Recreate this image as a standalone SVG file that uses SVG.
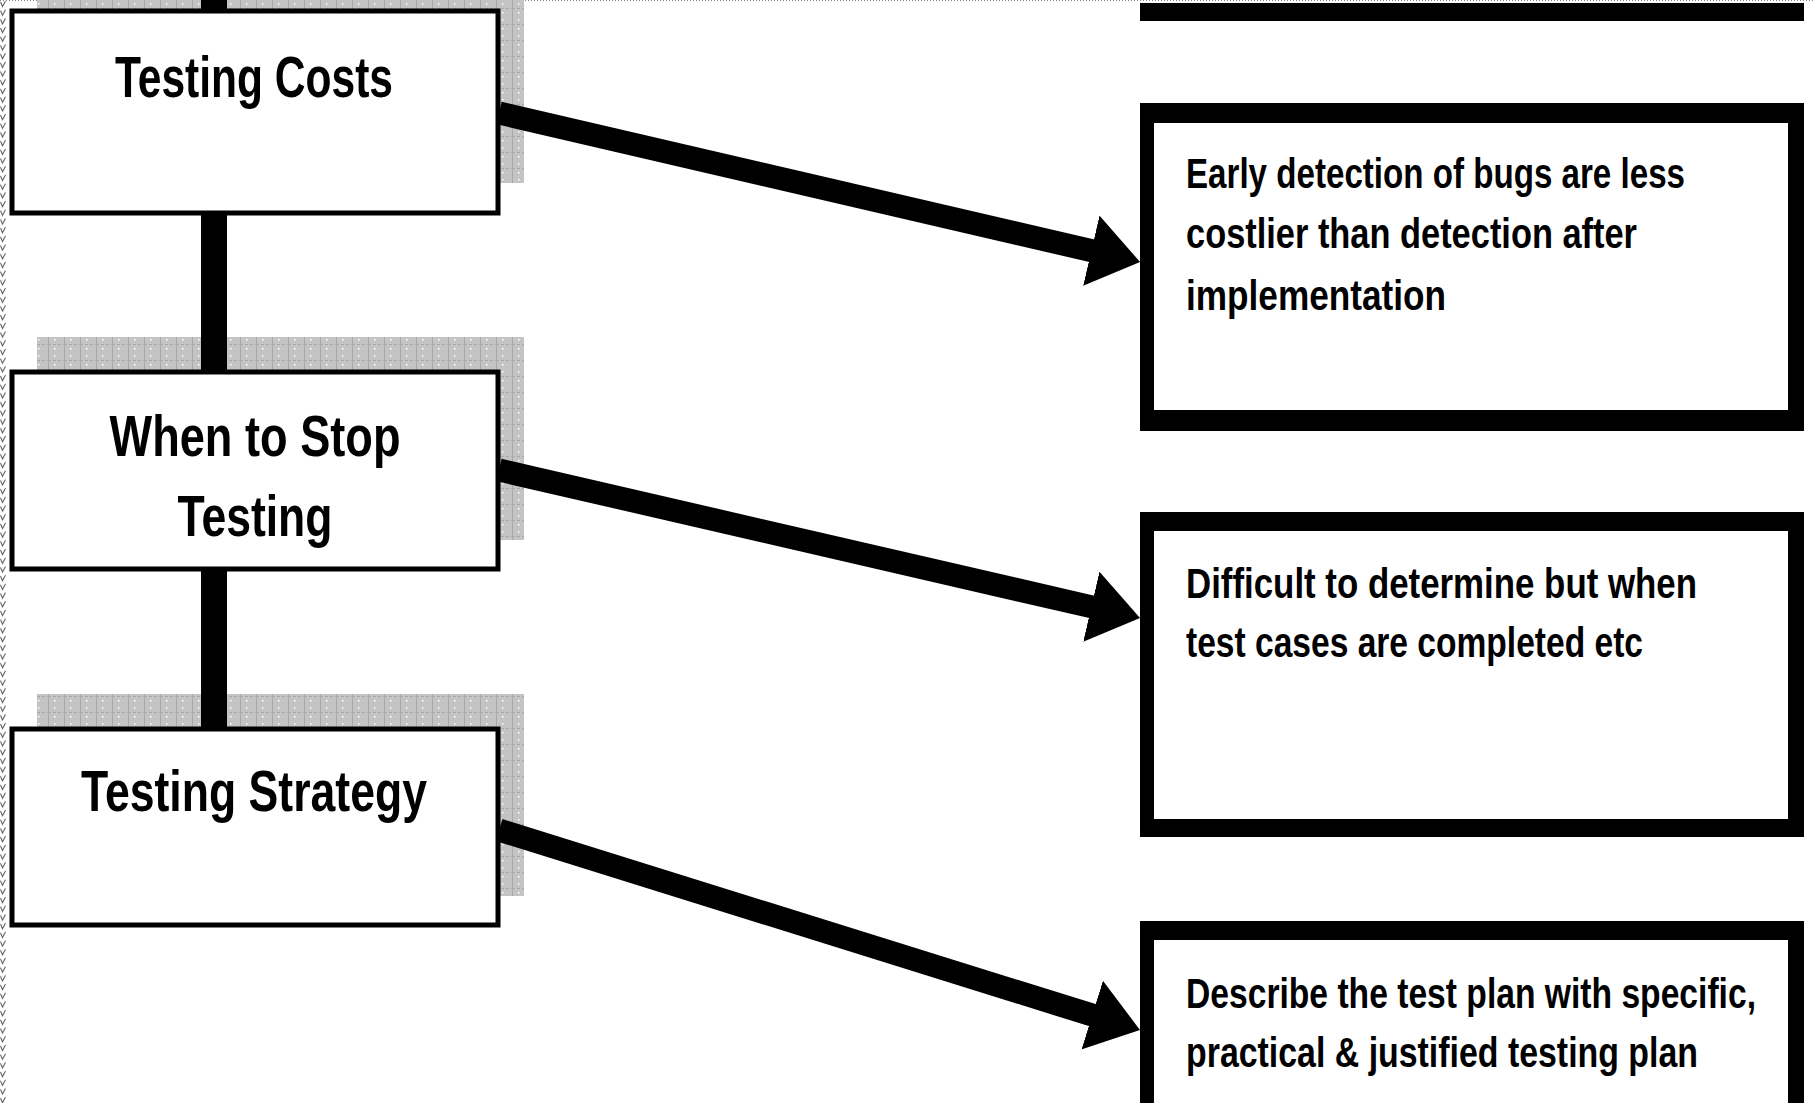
<svg xmlns="http://www.w3.org/2000/svg" width="1814" height="1103" viewBox="0 0 1814 1103">
  <style>
    .shadow { fill: url(#grid); }
    .lbox { fill: #ffffff; stroke: #000000; stroke-width: 5; }
    .title { font-family: "Liberation Sans", Arial, sans-serif; font-weight: bold; font-size: 58px; fill: #000; text-anchor: middle; }
    .outer { fill: #000000; }
    .inner { fill: #ffffff; }
    .body { font-family: "Liberation Sans", Arial, sans-serif; font-weight: bold; font-size: 31px; fill: #000; }
    .trunk { fill: #000000; }
    .arrow { fill: none; stroke: #000000; stroke-width: 23; stroke-linecap: butt; marker-end: url(#head); }
  </style>
  <defs>
    <pattern id="grid" x="0" y="0" width="16" height="16" patternUnits="userSpaceOnUse">
      <rect width="16" height="16" fill="#c4c4c4"/>
      <line x1="0.5" y1="0" x2="0.5" y2="16" stroke="#a9a9a9" stroke-width="1"/>
      <line x1="0" y1="8.5" x2="16" y2="8.5" stroke="#a9a9a9" stroke-width="1" stroke-dasharray="3,2"/>
      <rect x="6" y="3" width="1.5" height="1.5" fill="#ffffff"/>
      <rect x="6" y="12" width="1.5" height="1.5" fill="#ffffff"/>
    </pattern>
    <pattern id="zig" x="0" y="0" width="6" height="8.7" patternUnits="userSpaceOnUse">
      <path d="M0.5,2 L2.5,6.5 L5.5,1" fill="none" stroke="#555555" stroke-width="1"/>
    </pattern>
    <pattern id="dots" x="0" y="0" width="3" height="3" patternUnits="userSpaceOnUse">
      <rect width="1" height="1" fill="#888888"/>
    </pattern>
    <marker id="head" viewBox="0 0 50 72" markerUnits="userSpaceOnUse" markerWidth="50" markerHeight="72" refX="5" refY="36" orient="auto">
      <path d="M0,0 L50,36 L0,72 Z" fill="#000000"/>
    </marker>
  </defs>

  <rect width="1814" height="1103" fill="#ffffff"/>

  <!-- page edges -->
  <rect x="0" y="0" width="1814" height="2" fill="url(#dots)"/>
  <rect x="0" y="0" width="6" height="1103" fill="url(#zig)"/>

  <!-- shadows -->
  <g id="shadows">
    <rect class="shadow" x="37" y="-23" width="487" height="206"/>
    <rect class="shadow" x="37" y="337" width="487" height="203"/>
    <rect class="shadow" x="37" y="694" width="487" height="202"/>
  </g>

  <!-- connectors -->
  <g id="connectors">
    <rect class="trunk" x="201" y="0" width="26" height="14"/>
    <rect class="trunk" x="201" y="213" width="26" height="161"/>
    <rect class="trunk" x="201" y="568" width="26" height="163"/>
    <path class="arrow" d="M499,113 L1096.2,251.8"/>
    <path class="arrow" d="M499,470 L1096.2,607.9"/>
    <path class="arrow" d="M499,830 L1097,1016.6"/>
  </g>

  <!-- left nodes -->
  <g id="testing-costs">
    <rect class="lbox" x="12" y="11" width="486" height="202"/>
    <text class="title" x="254" y="97" textLength="278" lengthAdjust="spacingAndGlyphs">Testing Costs</text>
  </g>
  <g id="when-to-stop">
    <rect class="lbox" x="12" y="372" width="486" height="197"/>
    <text class="title" x="255" y="456" textLength="291" lengthAdjust="spacingAndGlyphs">When to Stop</text>
    <text class="title" x="255" y="536" textLength="155" lengthAdjust="spacingAndGlyphs">Testing</text>
  </g>
  <g id="testing-strategy">
    <rect class="lbox" x="12" y="729" width="486" height="196"/>
    <text class="title" x="254" y="811" textLength="346" lengthAdjust="spacingAndGlyphs">Testing Strategy</text>
  </g>

  <!-- right nodes -->
  <g id="top-box">
    <rect class="outer" x="1140" y="3" width="664" height="18"/>
  </g>
  <g id="cost-note">
    <rect class="outer" x="1140" y="103" width="664" height="328"/>
    <rect class="inner" x="1154" y="123" width="634" height="287"/>
    <text class="body" transform="translate(1186,188) scale(1,1.355)" textLength="499" lengthAdjust="spacingAndGlyphs">Early detection of bugs are less</text>
    <text class="body" transform="translate(1186,248) scale(1,1.355)" textLength="451" lengthAdjust="spacingAndGlyphs">costlier than detection after</text>
    <text class="body" transform="translate(1186,310) scale(1,1.355)" textLength="260" lengthAdjust="spacingAndGlyphs">implementation</text>
  </g>
  <g id="stop-note">
    <rect class="outer" x="1140" y="512" width="664" height="325"/>
    <rect class="inner" x="1154" y="531" width="634" height="288"/>
    <text class="body" transform="translate(1186,598) scale(1,1.355)" textLength="511" lengthAdjust="spacingAndGlyphs">Difficult to determine but when</text>
    <text class="body" transform="translate(1186,657) scale(1,1.355)" textLength="457" lengthAdjust="spacingAndGlyphs">test cases are completed etc</text>
  </g>
  <g id="strategy-note">
    <rect class="outer" x="1140" y="921" width="664" height="200"/>
    <rect class="inner" x="1154" y="940" width="634" height="200"/>
    <text class="body" transform="translate(1186,1008) scale(1,1.355)" textLength="570" lengthAdjust="spacingAndGlyphs">Describe the test plan with specific,</text>
    <text class="body" transform="translate(1186,1067) scale(1,1.355)" textLength="512" lengthAdjust="spacingAndGlyphs">practical &amp; justified testing plan</text>
  </g>
</svg>
